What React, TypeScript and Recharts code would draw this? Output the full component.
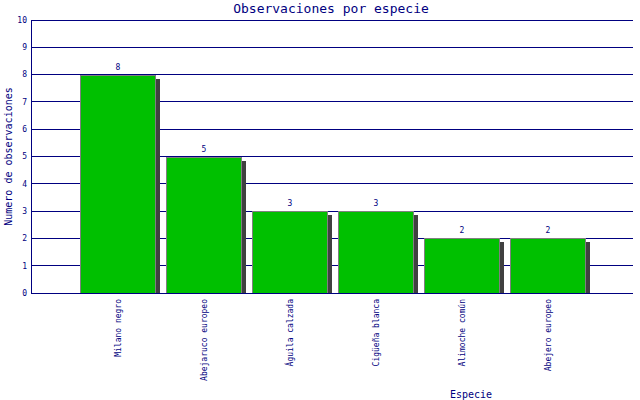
import React from 'react';
import { BarChart, Bar, XAxis, YAxis, CartesianGrid, LabelList } from 'recharts';

const species = ['Milano negro', 'Abejaruco europeo', 'Águila calzada', 'Cigüeña blanca', 'Alimoche común', 'Abejero europeo'];
const observations = [8, 5, 3, 3, 2, 2];
const yTicks = [0, 1, 2, 3, 4, 5, 6, 7, 8, 9, 10];

const data = species.map((name, i) => ({ name, value: observations[i] }));

const NAVY = '#000080';
const FONT = '"DejaVu Sans Mono", monospace';

const ShadowBar = (props: any) => {
  const { x, y, width, height } = props;
  if (height <= 0) return null;
  return (
    <g shapeRendering="crispEdges">
      <rect x={x + 4} y={y + 4} width={width} height={Math.max(0, height - 4)} fill="#404040" />
      <rect x={x + 0.5} y={y + 0.5} width={width - 1} height={height - 0.5} fill="#00C000" stroke="#808080" strokeWidth={1} />
    </g>
  );
};

const XTick = (props: any) => {
  const { x, y, payload } = props;
  return (
    <text
      x={x}
      y={y}
      transform={`rotate(-90, ${x}, ${y})`}
      textAnchor="end"
      dy="0.35em"
      fill={NAVY}
      fontSize={8}
      fontFamily={FONT}
    >
      {payload.value}
    </text>
  );
};

export default function App() {
  return (
    <div style={{ position: 'absolute', left: 0, top: 0, width: 640, height: 400, background: '#fff' }}>
      <div
        style={{
          position: 'absolute',
          left: 0,
          top: 0,
          width: 640,
          paddingLeft: 22,
          boxSizing: 'border-box',
          textAlign: 'center',
          fontFamily: FONT,
          fontSize: 13,
          color: NAVY,
          lineHeight: '17px',
        }}
      >
        Observaciones por especie
      </div>
      <BarChart width={640} height={400} data={data} margin={{ top: 20, right: 7, left: 0, bottom: 0 }}>
        <CartesianGrid horizontal vertical={false} stroke={NAVY} strokeOpacity={1} shapeRendering="crispEdges" />
        <XAxis
          dataKey="name"
          interval={0}
          height={107}
          padding={{ left: 44, right: 42 }}
          axisLine={{ stroke: NAVY, shapeRendering: 'crispEdges' }}
          tickLine={false}
          tickSize={0}
          tickMargin={6}
          tick={<XTick />}
          label={{
            value: 'Especie',
            position: 'insideBottom',
            offset: 2,
            dx: 139,
            fill: NAVY,
            fontSize: 10,
            fontFamily: FONT,
          }}
        />
        <YAxis
          yAxisId={0}
          width={31}
          domain={[0, 10]}
          ticks={yTicks}
          interval={0}
          axisLine={{ stroke: NAVY, shapeRendering: 'crispEdges' }}
          tickLine={false}
          tickSize={0}
          tickMargin={4}
          tick={{ fill: NAVY, fontSize: 8, fontFamily: FONT }}
          label={{
            value: 'Numero de observaciones',
            angle: -90,
            position: 'insideLeft',
            offset: 8,
            fill: NAVY,
            fontSize: 10,
            fontFamily: FONT,
            style: { textAnchor: 'middle' },
          }}
        />
        <YAxis
          yAxisId="right"
          orientation="right"
          width={0}
          domain={[0, 10]}
          tick={false}
          tickLine={false}
          axisLine={{ stroke: NAVY, shapeRendering: 'crispEdges' }}
        />
        <Bar dataKey="value" yAxisId={0} barSize={76} shape={<ShadowBar />} isAnimationActive={false}>
          <LabelList dataKey="value" position="top" offset={5} fill={NAVY} fontSize={8} fontFamily={FONT} />
        </Bar>
      </BarChart>
    </div>
  );
}
